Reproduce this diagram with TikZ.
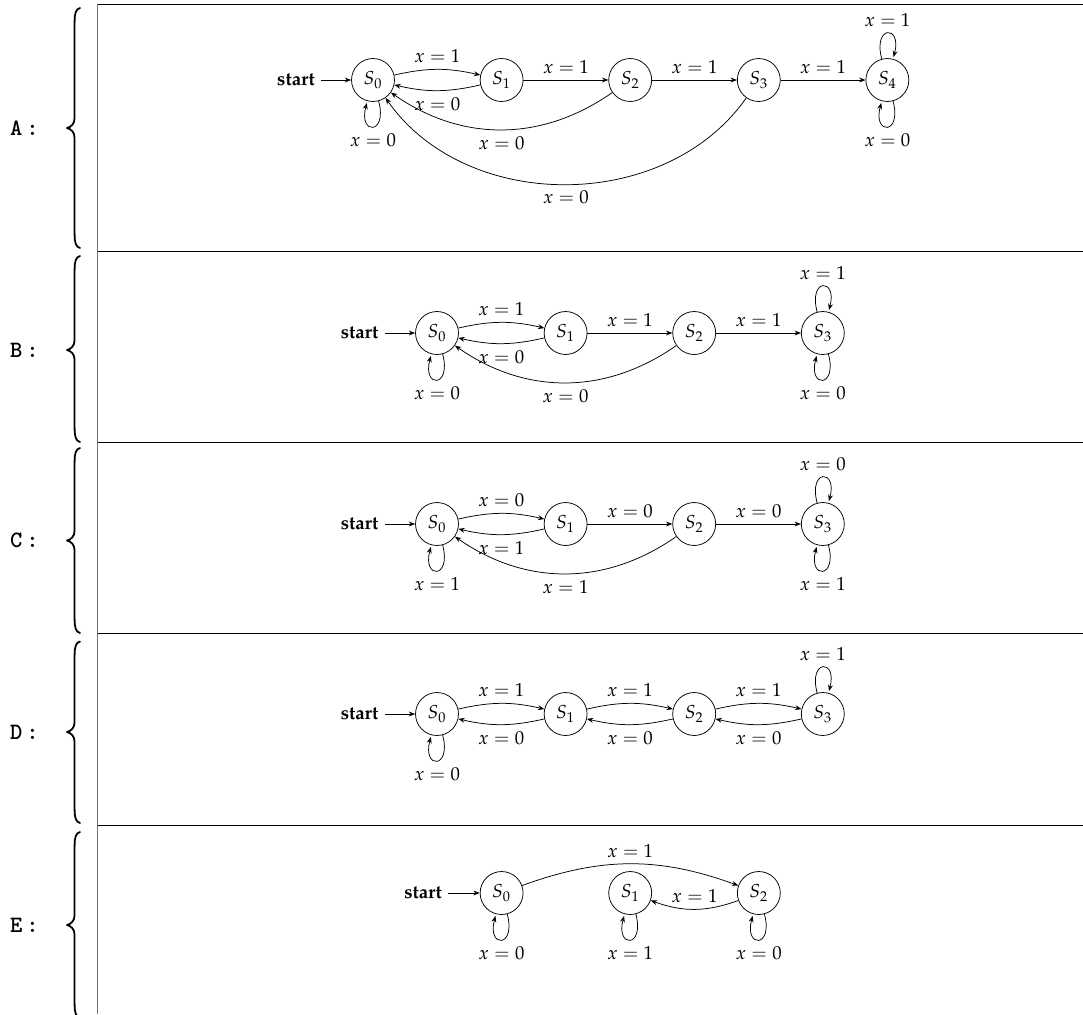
\documentclass[tikz,border=0pt]{standalone}
\usepackage[T1]{fontenc}
\usepackage{mathpazo}
\usetikzlibrary{arrows.meta,calc}
\newcommand{\rowfont}{\fontencoding{TU}\fontfamily{lmtt}\fontseries{b}\fontshape{n}\fontsize{12.5}{14}\selectfont}
\begin{document}
\begin{tikzpicture}[x=0.533pt,y=0.533pt,
  >={Stealth[length=3.4pt,width=2.6pt]},
  st/.style={circle,draw,minimum size=22.9pt,inner sep=0pt},
  startlbl/.style={font=\bfseries,inner sep=3.3pt},
  rowlabel/.style={inner sep=0pt,font=\rowfont},
  bracepath/.style={line width=0.95pt,line cap=round,line join=round},
  rule/.style={line width=0.5pt},
  vrule/.style={line width=0.8pt,draw=black!55},
  arr/.style={->},
]
\useasboundingbox (0,0) rectangle (1083,-1014);

% ---------- table frame ----------
\coordinate (vtop) at (97.7,-4);
\coordinate (vbot) at (97.7,-1014);
\draw[vrule] (vtop) -- (vbot);
\foreach \yy/\nm in {4/ha,251.7/hb,442.5/hc,633.5/hd,825/he}{
  \coordinate (\nm l) at (97.7,-\yy);
  \coordinate (\nm r) at (1083,-\yy);
  \draw[rule] (\nm l) -- (\nm r);
}

% ---------- left labels and braces ----------
\foreach \nm/\top/\mid/\bot in {A/8/128/248, B/256/350/442, C/448/540.5/633, D/641.5/732/823, E/832/925/1018}{
  \node[rowlabel] (lab\nm) at (24.5,-\mid) {\nm\,:};
  \draw[bracepath] (80,-\top) .. controls (76,-\top-1) and (74.6,-\top-5) .. (74.6,-\top-14)
     -- (74.6,-\mid+10) .. controls (74.6,-\mid+4) and (71,-\mid+1) .. (67,-\mid)
     .. controls (71,-\mid-1) and (74.6,-\mid-4) .. (74.6,-\mid-10)
     -- (74.6,-\bot+14) .. controls (74.6,-\bot+5) and (76,-\bot+1) .. (80,-\bot);
}

% ================= Panel A =================
\node[st] (A0) at (373,-80) {$S_0$};
\node[st] (A1) at (501.6,-80) {$S_1$};
\node[st] (A2) at (630.2,-80) {$S_2$};
\node[st] (A3) at (758.8,-80) {$S_3$};
\node[st] (A4) at (887.4,-80) {$S_4$};
\node[startlbl] (As) at (296,-80) {start};
\draw[arr] (As) -- (A0);
\path[arr] (A0) edge[bend left=13] node[above] {$x=1$} (A1)
           (A1) edge[bend left=13] node[below] {$x=0$} (A0)
           (A1) edge node[above] {$x=1$} (A2)
           (A2) edge node[above] {$x=1$} (A3)
           (A3) edge node[above] {$x=1$} (A4)
           (A2) edge[bend left=35] node[below] {$x=0$} (A0)
           (A3) edge[bend left=55] node[below] {$x=0$} (A0)
           (A0) edge[loop below] node[below] {$x=0$} ()
           (A4) edge[loop above] node[above] {$x=1$} ()
           (A4) edge[loop below] node[below] {$x=0$} ();

% ================= Panel B =================
\node[st] (B0) at (437,-333) {$S_0$};
\node[st] (B1) at (565.6,-333) {$S_1$};
\node[st] (B2) at (694.2,-333) {$S_2$};
\node[st] (B3) at (822.8,-333) {$S_3$};
\node[startlbl] (Bs) at (359.5,-333) {start};
\draw[arr] (Bs) -- (B0);
\path[arr] (B0) edge[bend left=13] node[above] {$x=1$} (B1)
           (B1) edge[bend left=13] node[below] {$x=0$} (B0)
           (B1) edge node[above] {$x=1$} (B2)
           (B2) edge node[above] {$x=1$} (B3)
           (B2) edge[bend left=35] node[below] {$x=0$} (B0)
           (B0) edge[loop below] node[below] {$x=0$} ()
           (B3) edge[loop above] node[above] {$x=1$} ()
           (B3) edge[loop below] node[below] {$x=0$} ();

% ================= Panel C =================
\node[st] (C0) at (437,-524) {$S_0$};
\node[st] (C1) at (565.6,-524) {$S_1$};
\node[st] (C2) at (694.2,-524) {$S_2$};
\node[st] (C3) at (822.8,-524) {$S_3$};
\node[startlbl] (Cs) at (359.5,-524) {start};
\draw[arr] (Cs) -- (C0);
\path[arr] (C0) edge[bend left=13] node[above] {$x=0$} (C1)
           (C1) edge[bend left=13] node[below] {$x=1$} (C0)
           (C1) edge node[above] {$x=0$} (C2)
           (C2) edge node[above] {$x=0$} (C3)
           (C2) edge[bend left=35] node[below] {$x=1$} (C0)
           (C0) edge[loop below] node[below] {$x=1$} ()
           (C3) edge[loop above] node[above] {$x=0$} ()
           (C3) edge[loop below] node[below] {$x=1$} ();

% ================= Panel D =================
\node[st] (D0) at (437,-714) {$S_0$};
\node[st] (D1) at (565.6,-714) {$S_1$};
\node[st] (D2) at (694.2,-714) {$S_2$};
\node[st] (D3) at (822.8,-714) {$S_3$};
\node[startlbl] (Ds) at (359.5,-714) {start};
\draw[arr] (Ds) -- (D0);
\path[arr] (D0) edge[bend left=13] node[above] {$x=1$} (D1)
           (D1) edge[bend left=13] node[below] {$x=0$} (D0)
           (D1) edge[bend left=13] node[above] {$x=1$} (D2)
           (D2) edge[bend left=13] node[below] {$x=0$} (D1)
           (D2) edge[bend left=13] node[above] {$x=1$} (D3)
           (D3) edge[bend left=13] node[below] {$x=0$} (D2)
           (D0) edge[loop below] node[below] {$x=0$} ()
           (D3) edge[loop above] node[above] {$x=1$} ();

% ================= Panel E =================
\node[st] (E0) at (501.6,-893) {$S_0$};
\node[st] (E1) at (630.2,-893) {$S_1$};
\node[st] (E2) at (758.8,-893) {$S_2$};
\node[startlbl] (Es) at (423,-893) {start};
\draw[arr] (Es) -- (E0);
\path[arr] (E0) edge[bend left=20] node[above] {$x=1$} (E2)
           (E2) edge[bend left=20] node[above] {$x=1$} (E1)
           (E0) edge[loop below] node[below] {$x=0$} ()
           (E1) edge[loop below] node[below] {$x=1$} ()
           (E2) edge[loop below] node[below] {$x=0$} ();
\end{tikzpicture}
\end{document}
